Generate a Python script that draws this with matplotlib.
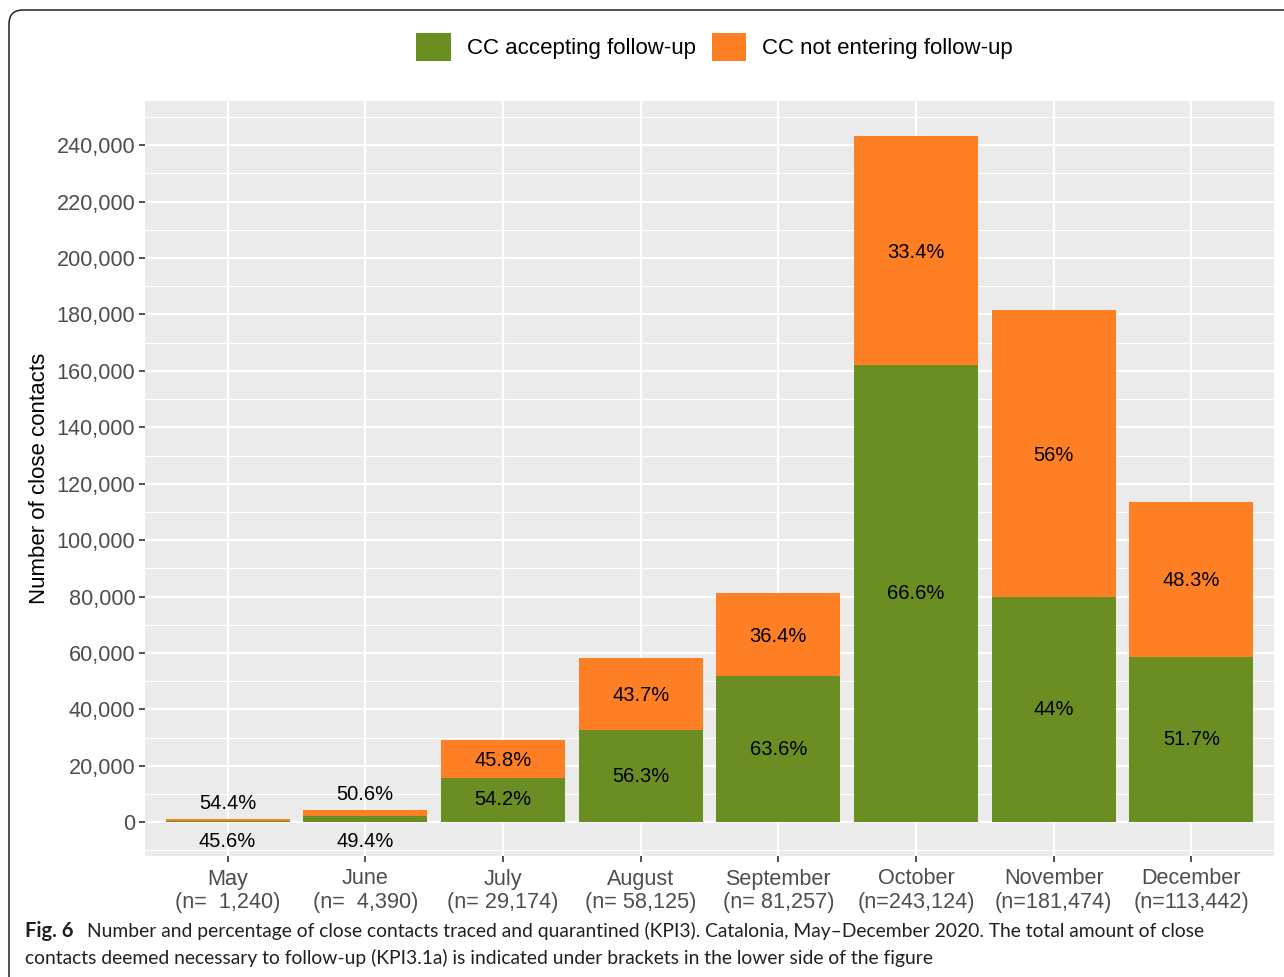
import numpy as np
import matplotlib
matplotlib.use("Agg")
import matplotlib.pyplot as plt
from matplotlib.patches import FancyBboxPatch
from matplotlib.transforms import IdentityTransform
from matplotlib.ticker import FuncFormatter, MultipleLocator

months = ["May", "June", "July", "August", "September", "October", "November", "December"]
totals = [1240, 4390, 29174, 58125, 81257, 243124, 181474, 113442]
pct_accept = [45.6, 49.4, 54.2, 56.3, 63.6, 66.6, 44, 51.7]
pct_not = [54.4, 50.6, 45.8, 43.7, 36.4, 33.4, 56, 48.3]

green = "#6B8E23"
orange = "#FF7F24"

plt.rcParams["font.family"] = ["Liberation Sans", "DejaVu Sans"]

totals = np.array(totals, dtype=float)
accept = totals * np.array(pct_accept) / 100
notent = totals - accept
x = np.arange(1, len(months) + 1)

fig = plt.figure(figsize=(12.84, 9.77), dpi=100)
ax = fig.add_axes([145 / 1284, 121 / 977, (1274 - 145) / 1284, (856 - 101) / 977])
ax.set_facecolor("#EBEBEB")

ax.bar(x, accept, width=0.9, color=green, label="CC accepting follow-up", zorder=3)
ax.bar(x, notent, bottom=accept, width=0.9, color=orange, label="CC not entering follow-up", zorder=3)

def fmt_pct(p):
    return ("%g" % p) + "%"

# small bars get their labels above / below the bar
for xi, a, n, t, pa, pn in zip(x, accept, notent, totals, pct_accept, pct_not):
    if t < 10000:
        ya, yn = -7000, t + 5800
    else:
        ya, yn = a / 2, a + n / 2
    ax.text(xi, ya, fmt_pct(pa), ha="center", va="center", fontsize=14.5, color="black", zorder=4)
    ax.text(xi, yn - 500, fmt_pct(pn), ha="center", va="center", fontsize=14.5, color="black", zorder=4)

ax.set_xlim(0.4, 8.6)
ax.set_ylim(-12000, 255700)
ax.yaxis.set_major_locator(MultipleLocator(20000))
ax.yaxis.set_minor_locator(MultipleLocator(10000))
ax.yaxis.set_major_formatter(FuncFormatter(lambda v, p: f"{int(v):,}"))
ax.set_xticks(x)
ax.set_xticklabels([f"{m}\n(n={format(int(t), ',').rjust(7)})" for m, t in zip(months, totals)],
                   linespacing=1.15)
ax.grid(which="major", color="white", linewidth=1.6, zorder=0)
ax.grid(which="minor", axis="y", color="white", linewidth=0.8, zorder=0)
ax.set_axisbelow(True)
for s in ax.spines.values():
    s.set_visible(False)
ax.tick_params(axis="both", which="major", length=4.5, width=1.2, color="#333333",
               labelsize=15.6, labelcolor="#4D4D4D", pad=2.5)
ax.tick_params(axis="x", which="major", pad=4.5)
ax.tick_params(axis="y", which="minor", length=0)
ax.set_ylabel("Number of close contacts", fontsize=16, color="black", labelpad=5)

leg = fig.legend(loc="center", bbox_to_anchor=(714.5 / 1284, 1 - 47 / 977), ncol=2, frameon=False,
                 fontsize=16, handlelength=1.55, handleheight=1.6, handletextpad=0.72,
                 columnspacing=0.72, borderpad=0)

fig.text(25 / 1284, 1 - 931 / 977, "Fig. 6", fontsize=14.5, fontweight="bold",
         family="Lato", va="center", ha="left", color="#231F20")
fig.text(87 / 1284, 1 - 931 / 977,
         "Number and percentage of close contacts traced and quarantined (KPI3). Catalonia, May\u2013December 2020. The total amount of close",
         fontsize=13.85, family="Lato", va="center", ha="left", color="#231F20")
fig.text(25 / 1284, 1 - 958 / 977,
         "contacts deemed necessary to follow-up (KPI3.1a) is indicated under brackets in the lower side of the figure",
         fontsize=13.85, family="Lato", va="center", ha="left", color="#231F20")

frame = FancyBboxPatch((9, -60), 1400, 977 - 10 + 60, boxstyle="round,pad=0,rounding_size=14",
                       transform=IdentityTransform(), fill=False, edgecolor="#222222", linewidth=1.1)
fig.patches.append(frame)

fig.savefig("out.png", dpi=100)
